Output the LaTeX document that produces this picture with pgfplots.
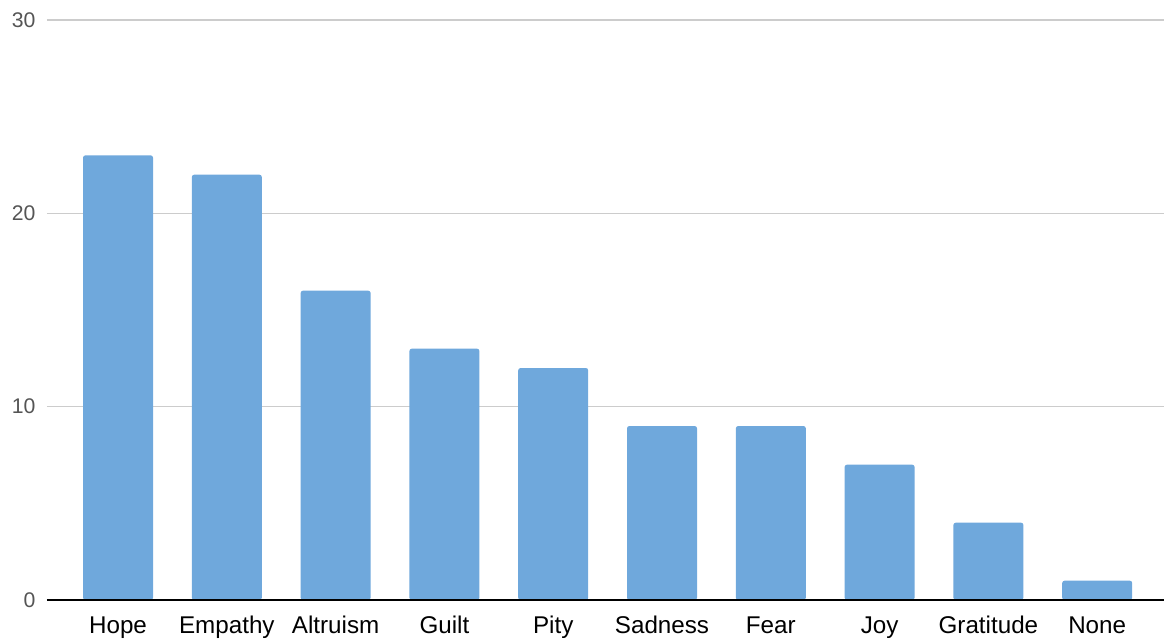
\documentclass[border=0pt]{standalone}
\usepackage{pgfplots}
\pgfplotsset{compat=1.18}
\usepackage{fontspec}
\setmainfont{Liberation Sans}
\definecolor{barblue}{HTML}{6FA8DC}
\definecolor{gridgray}{HTML}{CCCCCC}
\definecolor{ticktext}{HTML}{555555}
\definecolor{baseline}{HTML}{333333}
\begin{document}
\begin{tikzpicture}
\useasboundingbox (-23.5pt,-19.5pt) rectangle (558.5pt,300pt);
\begin{axis}[
  at={(0,0)}, anchor=south west,
  scale only axis,
  width=558.5pt, height=290pt,
  xmin=-0.653, xmax=9.614,
  ymin=0, ymax=30,
  ytick={0,10,20,30},
  xtick={0,...,9},
  xticklabels={Hope,Empathy,Altruism,Guilt,Pity,Sadness,Fear,Joy,Gratitude,None},
  axis line style={draw=none},
  major tick length=0pt,
  ymajorgrids,
  grid style={gridgray, line width=0.7pt},
  yticklabel style={font=\fontsize{10.6}{12}\selectfont, text=ticktext},
  xticklabel style={font=\fontsize{12.1}{14}\selectfont, text=black,
                    text height=9pt, text depth=2.6pt},
  yticklabel shift=2.2pt,
  xticklabel shift=4pt,
  /pgf/number format/assume math mode=true,
  ybar, bar width=35pt,
  clip=false,
]
\addplot[fill=barblue, draw=none, rounded corners=1.2pt] coordinates {
  (0,23) (1,22) (2,16) (3,13) (4,12) (5,9) (6,9) (7,7) (8,4) (9,1)
};
\draw[baseline, line width=1pt] (axis cs:-0.653,0) -- (axis cs:9.614,0);
\end{axis}
\end{tikzpicture}
\end{document}
